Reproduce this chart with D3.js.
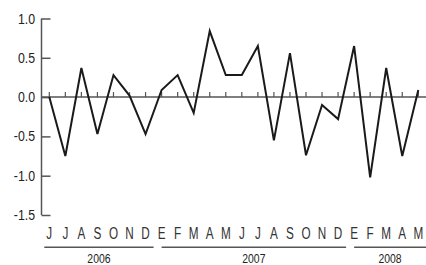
<!DOCTYPE html>
<html>
<head>
<meta charset="utf-8">
<script src="https://cdn.jsdelivr.net/npm/d3@7"></script>
<style>
  body { margin: 0; background: #fff; }
  svg text { font-family: "Liberation Sans", Arial, sans-serif; fill: #222; }
</style>
</head>
<body>
<div id="chart"></div>
<script>
//chart size
const width = 426,
    height = 265;

//data
const months = ["J","J","A","S","O","N","D","E","F","M","A","M","J","J","A","S","O","N","D","E","F","M","A","M"];
const values = [0.0, -0.75, 0.37, -0.47, 0.28, 0.02, -0.47, 0.09, 0.28, -0.2, 0.84, 0.28, 0.28, 0.65, -0.55, 0.56, -0.74, -0.1, -0.28, 0.65, -1.02, 0.37, -0.75, 0.09];
const years = ["2006", "2007", "2008"];
const yearFirst = [0, 7, 19];
const yearLast = [6, 18, 23];
const yTicks = [-1.5, -1.0, -0.5, 0.0, 0.5, 1.0];

const svg = d3.select("#chart")
    .append("svg")
        .attr("width", width)
        .attr("height", height);

//scales
const x = d3.scalePoint()
    .domain(d3.range(months.length))
    .range([49.3, 418.3]);

const y = d3.scaleLinear()
    .domain([-1.5, 1.0])
    .range([215, 18.5]);

const axisX = 41.5;

//y axis with inward ticks
const yAxis = svg.append("g")
    .attr("transform", `translate(${axisX},0)`)
    .call(d3.axisRight(y).tickValues(yTicks).tickSize(9).tickFormat(""));
yAxis.select(".domain").attr("d", `M0,${y(1.0)}V${y(-1.5)}`);
yAxis.selectAll("path, line").attr("stroke", "#555").attr("stroke-width", 1.5);

//y tick labels (condensed by a horizontal squeeze)
svg.selectAll(".ylab")
    .data(yTicks)
    .join("text")
        .attr("transform", d => `translate(35,${y(d)}) scale(0.85,1)`)
        .attr("dy", "0.35em")
        .attr("text-anchor", "end")
        .style("font-size", "14.5px")
        .text(d => d3.format(".1f")(d).replace("−", "-"));

//zero line with month ticks
svg.append("line")
    .attr("x1", axisX)
    .attr("x2", width)
    .attr("y1", y(0))
    .attr("y2", y(0))
    .attr("stroke", "#555")
    .attr("stroke-width", 1.5);

svg.selectAll(".mtick")
    .data(months)
    .join("line")
        .attr("x1", (d, i) => x(i))
        .attr("x2", (d, i) => x(i))
        .attr("y1", y(0))
        .attr("y2", y(0) - 5)
        .attr("stroke", "#555")
        .attr("stroke-width", 1.2);

//series line
const line = d3.line()
    .x((d, i) => x(i))
    .y(d => y(d));

svg.append("path")
    .datum(values)
    .attr("d", line)
    .attr("fill", "none")
    .attr("stroke", "#1a1a1a")
    .attr("stroke-width", 2)
    .attr("stroke-linejoin", "miter");

//month labels
svg.selectAll(".mlab")
    .data(months)
    .join("text")
        .attr("transform", (d, i) => `translate(${x(i)},239) scale(0.72,1)`)
        .attr("text-anchor", "middle")
        .style("font-size", "16.3px")
        .style("fill", "#333")
        .text(d => d);

//year brackets
const step = x.step();
years.forEach(function(yr, k) {
    const x1 = k === 0 ? x(yearFirst[k]) - 5 : x(yearFirst[k]);
    const x2 = Math.min(width, x(yearLast[k]) + step / 2);
    svg.append("line")
        .attr("x1", x1)
        .attr("x2", x2)
        .attr("y1", 247.3)
        .attr("y2", 247.3)
        .attr("stroke", "#555")
        .attr("stroke-width", 1.5);
    svg.append("text")
        .attr("transform", `translate(${(x1 + x2) / 2},262.5) scale(0.8,1)`)
        .attr("text-anchor", "middle")
        .style("font-size", "13px")
        .text(yr);
});
</script>
</body>
</html>
